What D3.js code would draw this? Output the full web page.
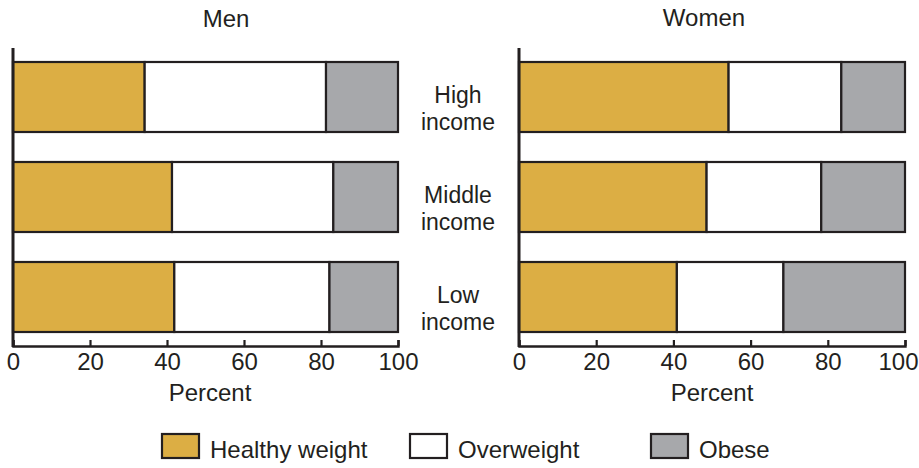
<!DOCTYPE html>
<html>
<head>
<meta charset="utf-8">
<script src="https://cdn.jsdelivr.net/npm/d3@7"></script>
<style>
  html, body { margin: 0; padding: 0; background: #fff; }
  svg { display: block; font-family: "Liberation Sans", Arial, Helvetica, sans-serif; }
</style>
</head>
<body>
<svg id="chart" width="919" height="468"></svg>
<script>
const categories = ["High income", "Middle income", "Low income"];
const seriesNames = ["Healthy weight", "Overweight", "Obese"];
const menHealthy = [34.2, 41.3, 41.9];
const menOverweight = [47.1, 41.9, 40.3];
const menObese = [18.7, 16.8, 17.8];
const womenHealthy = [54.3, 48.6, 40.9];
const womenOverweight = [29.2, 29.7, 27.6];
const womenObese = [16.5, 21.7, 31.5];
const xTicks = [0, 20, 40, 60, 80, 100];
const panelTitles = ["Men", "Women"];
const axisTitle = "Percent";

const colors = ["#dcae44", "#ffffff", "#a7a8ab"];
const ink = "#231f20";

const svg = d3.select("#chart");

const y = d3.scaleBand().domain(categories).range([62, 332]).paddingInner(0.3).paddingOuter(0);

const panels = [
  { title: panelTitles[0], range: [13, 398], data: [menHealthy, menOverweight, menObese], titleX: 226, titleY: 27, pctX: 210 },
  { title: panelTitles[1], range: [519, 905], data: [womenHealthy, womenOverweight, womenObese], titleX: 704, titleY: 26, pctX: 712 }
];

panels.forEach((p, pi) => {
  const x = d3.scaleLinear().domain([0, 100]).range(p.range);
  const g = svg.append("g");
  const rows = categories.map((c, i) => {
    const obj = { cat: c };
    seriesNames.forEach((s, j) => obj[s] = p.data[j][i]);
    return obj;
  });
  const stacked = d3.stack().keys(seriesNames)(rows);
  stacked.forEach((layer, j) => {
    g.selectAll(null).data(layer).join("rect")
      .attr("x", d => x(d[0]))
      .attr("width", d => x(d[1]) - x(d[0]))
      .attr("y", d => y(d.data.cat))
      .attr("height", y.bandwidth())
      .attr("fill", colors[j])
      .attr("stroke", ink)
      .attr("stroke-width", 2.2);
  });

  // x axis
  const ax = g.append("g").attr("transform", `translate(0,346)`)
    .call(d3.axisBottom(x).tickValues(xTicks).tickSizeInner(-6).tickSizeOuter(-6).tickPadding(7));
  ax.attr("font-family", null).attr("font-size", null);
  ax.select(".domain").attr("stroke", ink).attr("stroke-width", 2.4);
  ax.selectAll(".tick line").attr("stroke", ink).attr("stroke-width", 2.2);
  ax.selectAll(".tick text").attr("font-size", 24).attr("fill", ink)
    .attr("dx", d => (pi === 1 && d === 100) ? -7 : 0);

  // y axis line
  g.append("line")
    .attr("x1", x(0)).attr("x2", x(0))
    .attr("y1", 48).attr("y2", 347)
    .attr("stroke", ink).attr("stroke-width", 3);

  g.append("text").attr("x", p.titleX).attr("y", p.titleY)
    .attr("text-anchor", "middle").attr("font-size", 24).attr("fill", ink)
    .text(p.title);

  g.append("text").attr("x", p.pctX).attr("y", 401)
    .attr("text-anchor", "middle").attr("font-size", 24).attr("fill", ink)
    .text(axisTitle);
});

// category labels in the middle
categories.forEach(c => {
  const parts = c.split(" ");
  const cy = y(c) + y.bandwidth() / 2;
  const t = svg.append("text").attr("text-anchor", "middle")
    .attr("font-size", 23).attr("fill", ink);
  t.append("tspan").attr("x", 458).attr("y", cy + 6).text(parts[0]);
  t.append("tspan").attr("x", 458).attr("y", cy + 33).text(parts[1]);
});

// legend
const legendX = [162, 410, 651];
seriesNames.forEach((s, j) => {
  const lg = svg.append("g").attr("transform", `translate(${legendX[j]},434)`);
  lg.append("rect").attr("x", 0).attr("y", 0).attr("width", 37).attr("height", 24)
    .attr("fill", colors[j]).attr("stroke", ink).attr("stroke-width", 2.2);
  lg.append("text").attr("x", 48).attr("y", 24).attr("font-size", 24).attr("fill", ink).text(s);
});
</script>
</body>
</html>
